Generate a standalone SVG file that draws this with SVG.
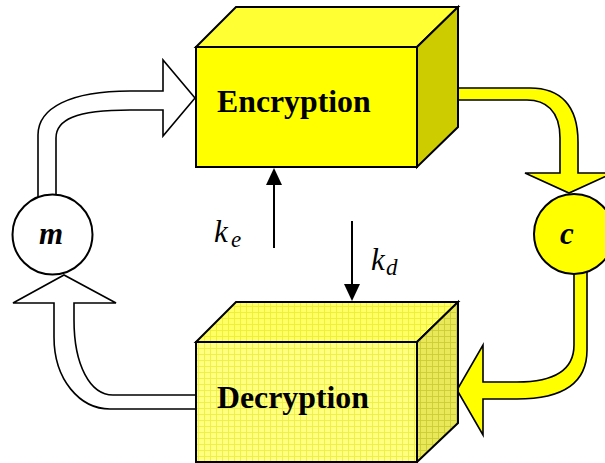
<svg xmlns="http://www.w3.org/2000/svg" width="605" height="463" viewBox="0 0 605 463">
  <style>
    .edge { stroke: #000; stroke-width: 2; stroke-linejoin: miter; }
    .flow { stroke: #000; stroke-width: 1.6; stroke-linejoin: miter; }
    .white { fill: #ffffff; }
    .yellow { fill: #ffff00; }
    .key { stroke: #000; stroke-width: 2; fill: none; }
    .head { fill: #000; }
    .label { font-family: "Liberation Serif", "Times New Roman", serif; font-weight: bold; font-size: 31.8px; fill: #000; }
    .sym { font-family: "Liberation Serif", "Times New Roman", serif; font-weight: bold; font-style: italic; font-size: 31px; fill: #000; }
    .math { font-family: "Liberation Serif", "Times New Roman", serif; font-style: italic; fill: #000; }
  </style>
  <defs>
    <!-- fine grid texture for the decryption box faces -->
    <pattern id="gridFront" width="6" height="6" patternUnits="userSpaceOnUse">
      <rect width="6" height="6" fill="#ffff80"/>
      <path d="M0,0.5 H6 M0.5,0 V6" stroke="#eeee44" stroke-width="0.9"/>
    </pattern>
    <pattern id="gridTop" width="6" height="6" patternUnits="userSpaceOnUse">
      <rect width="6" height="6" fill="#ffff66"/>
      <path d="M0,0.5 H6 M0.5,0 V6" stroke="#eeee33" stroke-width="0.9"/>
    </pattern>
    <pattern id="gridSide" width="6" height="6" patternUnits="userSpaceOnUse">
      <rect width="6" height="6" fill="#e8e85a"/>
      <path d="M0,0.5 H6 M0.5,0 V6" stroke="#cccc33" stroke-width="0.9"/>
    </pattern>
  </defs>

  <!-- block arrows and key arrows -->
  <g id="connectors">
    <!-- m -> Encryption -->
    <path class="flow white" d="M38,205 L38,135 C38,108 70,91 130,91 L163,91 L163,60 L195,98 L163,136 L163,110 L130,110 C75,110 56,120 56,138 L56,205 Z"/>
    <!-- Encryption -> c -->
    <path class="flow yellow" d="M457,88 L530,88 C560,88 578,105 578,142 L578,173 L613,173 L569,193 L525,173 L560,173 L560,138 C560,110 545,100 527,100 L457,100 Z"/>
    <!-- c -> Decryption -->
    <path class="flow yellow" d="M587,265 L587,350 C587,385 560,399 517,399 L483,399 L483,435 L457,390 L483,345 L483,382 L517,382 C555,382 574,370 574,345 L574,265 Z"/>
    <!-- Decryption -> m -->
    <path class="flow white" d="M196,409 L110,409 C80,409 54,380 54,337 L54,303 L13,303 L64,275 L116,303 L74,303 L74,320 C74,365 90,395 113,395 L196,395 Z"/>
    <!-- encryption key -->
    <line class="key" x1="274" y1="248" x2="274" y2="182"/>
    <polygon class="head" points="274,168 266,185 282,185"/>
    <!-- decryption key -->
    <line class="key" x1="352" y1="221" x2="352" y2="287"/>
    <polygon class="head" points="352,301 344,284 360,284"/>
  </g>

  <g id="encryption">
    <polygon class="edge" fill="#ffff33" points="196,47 236,7 458,7 417,47"/>
    <polygon class="edge" fill="#cccc00" points="417,47 458,7 458,127 417,167"/>
    <rect class="edge" fill="#ffff00" x="196" y="47" width="221" height="120"/>
    <text class="label" x="217" y="112">Encryption</text>
  </g>

  <g id="decryption">
    <polygon class="edge" fill="url(#gridTop)" points="196,342 236,302 458,302 417,342"/>
    <polygon class="edge" fill="url(#gridSide)" points="417,342 458,302 458,423 417,462"/>
    <rect class="edge" fill="url(#gridFront)" x="196" y="342" width="221" height="120"/>
    <text class="label" x="217" y="408">Decryption</text>
  </g>

  <g id="message">
    <circle class="edge" fill="#ffffff" cx="52.5" cy="234.5" r="40"/>
    <text class="sym" x="51" y="244" text-anchor="middle">m</text>
  </g>

  <g id="ciphertext">
    <circle class="edge" fill="#ffff00" cx="574" cy="234" r="40"/>
    <text class="sym" x="567" y="244" text-anchor="middle">c</text>
  </g>

  <g id="key-labels">
    <text class="math" x="214" y="241.5" font-size="31">k</text>
    <text class="math" x="231" y="247" font-size="23">e</text>
    <text class="math" x="371" y="270" font-size="31">k</text>
    <text class="math" x="386" y="275" font-size="23">d</text>
  </g>
</svg>
